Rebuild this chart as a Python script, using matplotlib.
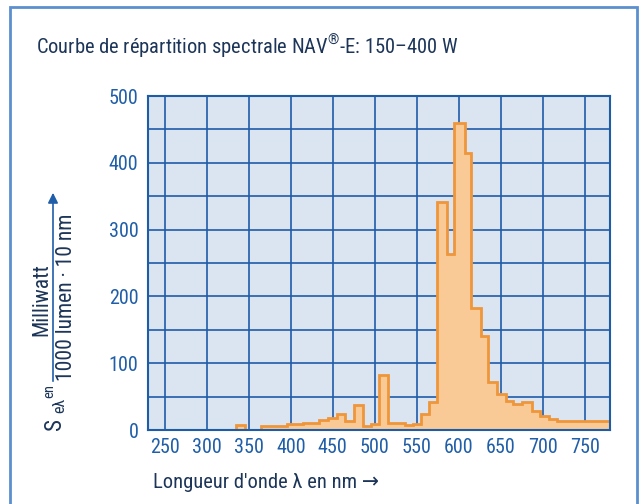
import matplotlib
matplotlib.use("Agg")
import matplotlib.pyplot as plt
import matplotlib.patches as patches

# Spectral distribution NAV-E 150-400 W
edges = [230, 335, 346, 364, 395, 415, 434, 444, 455, 465, 475, 486, 496, 505,
         516, 536, 545, 555, 565, 574, 586, 594, 607, 615, 626, 635, 645, 656,
         665, 675, 687, 697, 707, 717, 780]
values = [0, 8, 0, 5.5, 8.5, 11, 14.5, 17.5, 23.5, 14, 38, 6, 8.5, 82,
          11, 7, 8.5, 23.5, 42.5, 341, 263, 460, 414, 182, 141, 72, 54,
          43, 38.5, 42, 28.5, 21, 17, 13.5]
x_ticks = [250, 300, 350, 400, 450, 500, 550, 600, 650, 700, 750]
y_ticks = [0, 100, 200, 300, 400, 500]

TITLE = "Courbe de répartition spectrale NAV$^{\\mathrm{®}}$-E: 150–400 W"
XLABEL = "Longueur d'onde λ en nm →"

FONT = ["Roboto Condensed", "DejaVu Sans"]
NAVY = "#1c3558"
BLUE = "#1f5ea8"
GRID = "#1f5ca8"
BG = "#dae5f1"
FILL = "#f9ca95"
LINE = "#f0963a"

plt.rcParams["font.family"] = FONT
plt.rcParams["mathtext.fontset"] = "custom"
plt.rcParams["mathtext.rm"] = "Roboto Condensed"

W, H = 643, 504
fig = plt.figure(figsize=(W / 100, H / 100), dpi=100)


def px(x, y):
    """pixel coords (top-left origin) -> figure fraction"""
    return x / W, 1 - y / H


# outer frame
fig.add_artist(patches.Rectangle(px(10, 520), 627 / W, 513 / H,
                                 transform=fig.transFigure, fill=False,
                                 edgecolor="#5b8fcf", linewidth=2))

left, top = px(148, 96)
right, bottom = px(610, 430)
ax = fig.add_axes([left, bottom, right - left, top - bottom])
ax.set_facecolor(BG)

ax.stairs(values, edges, fill=True, color=FILL, linewidth=0, zorder=2)
ax.stairs(values, edges, color=LINE, linewidth=2, zorder=3)

ax.set_xlim(230, 780)
ax.set_ylim(0, 500)
ax.set_xticks(x_ticks)
ax.set_yticks(range(0, 501, 50), minor=True)
ax.set_yticks(y_ticks)
ax.grid(True, which="both", color=GRID, linewidth=1.2, zorder=1)
ax.set_axisbelow(True)
ax.tick_params(which="both", length=0, labelsize=14.5, labelcolor=BLUE)
ax.tick_params(axis="x", pad=6)
ax.tick_params(axis="y", pad=7)
for s in ax.spines.values():
    s.set_color(GRID)
    s.set_linewidth(1.5)
    s.set_zorder(4)

fig.text(*px(36, 46), TITLE, fontsize=14.8, color=NAVY, ha="left",
         va="center")
fig.text(*px(153, 482), XLABEL, fontsize=14.8, color=NAVY, ha="left",
         va="center")

# y label: S_elambda en  Milliwatt / (1000 lumen . 10 nm) with arrow
fig.add_artist(patches.FancyArrowPatch(px(53, 384), px(53, 190),
                                       transform=fig.transFigure,
                                       arrowstyle="-|>,head_length=6,head_width=3",
                                       color=BLUE, linewidth=1.2))
fig.text(*px(42, 300), "Milliwatt", rotation=90, fontsize=15.5, color=NAVY,
         ha="center", va="center")
fig.text(*px(66, 297), "1000 lumen · 10 nm", rotation=90, fontsize=15.5,
         color=NAVY, ha="center", va="center")
fig.text(*px(55, 424), "S", rotation=90, fontsize=16.5, color=NAVY,
         ha="center", va="center")
fig.text(*px(60, 405), "eλ", rotation=90, fontsize=11.5, color=NAVY,
         ha="center", va="center")
fig.text(*px(49, 391), "en", rotation=90, fontsize=10.5, color=NAVY,
         ha="center", va="center")

fig.savefig("out.png", dpi=100)
